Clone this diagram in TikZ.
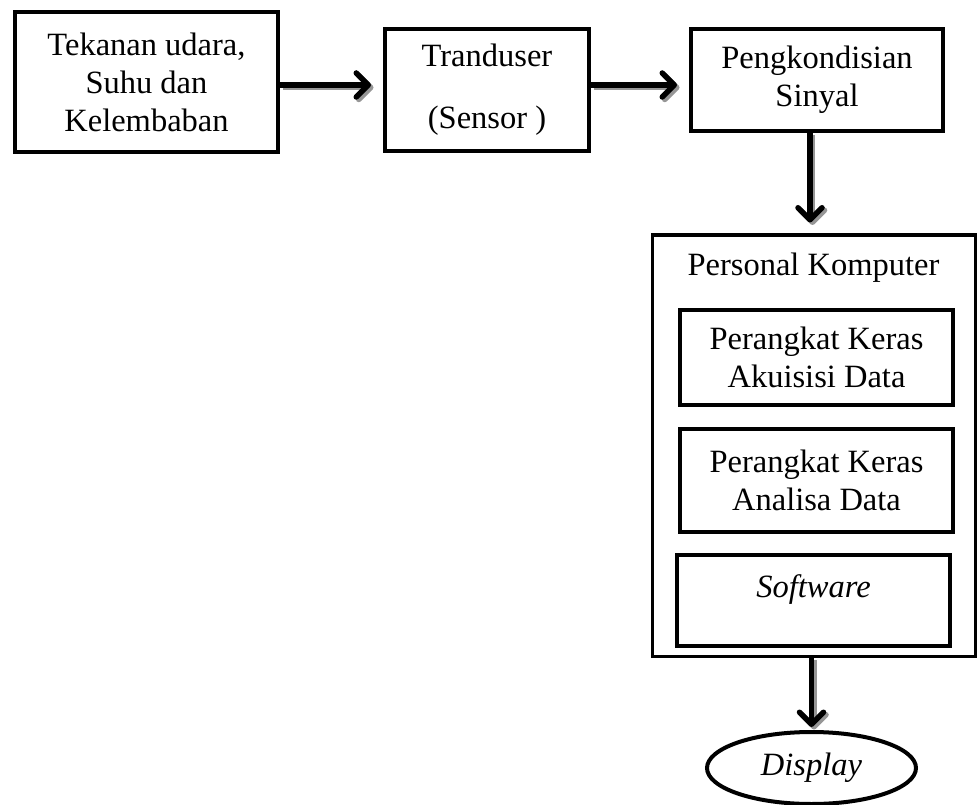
\documentclass[tikz,border=0pt]{standalone}
\usepackage{fontspec}
\setmainfont{Liberation Serif}
\usetikzlibrary{arrows.meta,shapes.geometric}
\definecolor{shadowgray}{RGB}{150,150,150}
\tikzset{
  box/.style={draw, line width=4pt, inner sep=0pt, align=center, font=\fontsize{32.5}{38}\selectfont},
  txt/.style={inner sep=0pt, align=center, font=\fontsize{32.5}{38}\selectfont},
  barb/.style={-{Straight Barb[length=12pt,width=24pt,line cap=round,line join=round]}},
  arr/.style={line width=5.5pt, barb, shorten >=#1,
    preaction={draw=shadowgray, line width=5.5pt, barb, shorten >=#1,
      transform canvas={shift={(2.5pt,-2.5pt)}}}},
}
\begin{document}
\begin{tikzpicture}[x=1pt,y=-1pt]
\useasboundingbox (0,0) rectangle (977,805);
% boxes
\node[box, minimum width=263pt, minimum height=140pt] (b1) at (146.5,82)
  {Tekanan udara,\\Suhu dan\\Kelembaban};
\node[box, minimum width=204pt, minimum height=122pt] (b2) at (487,90)
  {Tranduser\\[24pt](Sensor )};
\node[box, minimum width=252pt, minimum height=102pt] (b3) at (817,80)
  {Pengkondisian\\Sinyal};
\node[draw, line width=3pt, minimum width=323pt, minimum height=421pt] (pc) at (813.5,445.5) {};
\node[txt] (pct) at (813.5,268) {Personal Komputer};
\node[box, minimum width=273pt, minimum height=95pt] (ba) at (816.5,357.5)
  {Perangkat Keras\\Akuisisi Data};
\node[box, minimum width=273pt, minimum height=103pt] (bb) at (816.5,480.5)
  {Perangkat Keras\\Analisa Data};
\node[box, minimum width=273pt, minimum height=91pt] (bc) at (813.5,600.5)
  {\textit{Software}\\[-10pt]~};
\node[box, ellipse, minimum width=209pt, minimum height=72pt] (disp) at (811.5,768)
  {\textit{Display}};
% connectors
\draw[arr=12pt] ([yshift=-3pt]b1.east) -- ([yshift=-3pt]b1.east -| b2.west);
\draw[arr=12pt] ([yshift=5pt]b2.east) -- ([yshift=5pt]b2.east -| b3.west);
\draw[arr=11pt] ([xshift=-7pt]b3.south) -- ([xshift=-7pt]b3.south |- pc.north);
\draw[arr=3pt] (disp.north |- pc.south) -- (disp.north);
\end{tikzpicture}
\end{document}
